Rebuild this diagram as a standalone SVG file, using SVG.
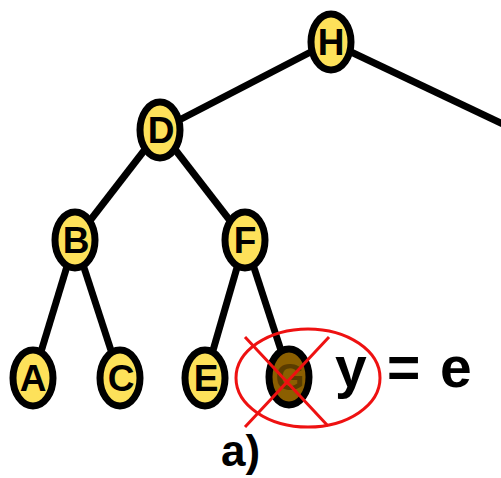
<svg xmlns="http://www.w3.org/2000/svg" width="501" height="478" viewBox="0 0 501 478">
<style>
.e{stroke:#000;stroke-width:7;fill:none}
.n{fill:#fde15a;stroke:#000;stroke-width:7}
.t{font-family:"Liberation Sans",Arial,sans-serif;font-weight:bold;font-size:37px;text-anchor:middle;fill:#000}
.big{font-family:"Liberation Sans",Arial,sans-serif;font-weight:bold;font-size:57px;fill:#000}
.r{stroke:#ee1111;stroke-width:3;fill:none}
</style>
<g id="connectors">
<line class="e" x1="330" y1="42" x2="160" y2="130"/>
<line class="e" x1="330" y1="42" x2="505" y2="125"/>
<line class="e" x1="160" y1="130" x2="75" y2="240"/>
<line class="e" x1="160" y1="130" x2="245" y2="240"/>
<line class="e" x1="75" y1="240" x2="33" y2="378"/>
<line class="e" x1="75" y1="240" x2="120" y2="378"/>
<line class="e" x1="245" y1="240" x2="205" y2="378"/>
<line class="e" x1="245" y1="240" x2="290" y2="378"/>
</g>
<g id="H"><ellipse class="n" cx="331" cy="42" rx="20" ry="28"/><text class="t" x="331" y="55">H</text></g>
<g id="D"><ellipse class="n" cx="160" cy="130" rx="20" ry="28"/><text class="t" x="161" y="143">D</text></g>
<g id="B"><ellipse class="n" cx="75" cy="240" rx="20" ry="28"/><text class="t" x="76" y="253">B</text></g>
<g id="F"><ellipse class="n" cx="245" cy="240" rx="20" ry="28"/><text class="t" x="245" y="253">F</text></g>
<g id="A"><ellipse class="n" cx="33" cy="378" rx="20" ry="28"/><text class="t" x="33" y="391">A</text></g>
<g id="C"><ellipse class="n" cx="120" cy="378" rx="20" ry="28"/><text class="t" x="121" y="391">C</text></g>
<g id="E"><ellipse class="n" cx="205" cy="378" rx="20" ry="28"/><text class="t" x="206" y="391">E</text></g>
<g id="G"><ellipse cx="289" cy="377" rx="20" ry="28" fill="#8b5f00" stroke="#000" stroke-width="7"/><text class="t" x="290" y="390" style="fill:#5a3c00">G</text></g>
<g id="mark">
<ellipse class="r" cx="308" cy="378" rx="72" ry="49"/>
<line class="r" x1="245" y1="337" x2="328" y2="426"/>
<line class="r" x1="329" y1="337" x2="245" y2="427"/>
</g>
<text class="big" x="335" y="387">y</text>
<text class="big" x="387" y="387">=</text>
<text class="big" x="440" y="387">e</text>
<text class="big" x="221" y="466" style="font-size:44px">a)</text>
</svg>
